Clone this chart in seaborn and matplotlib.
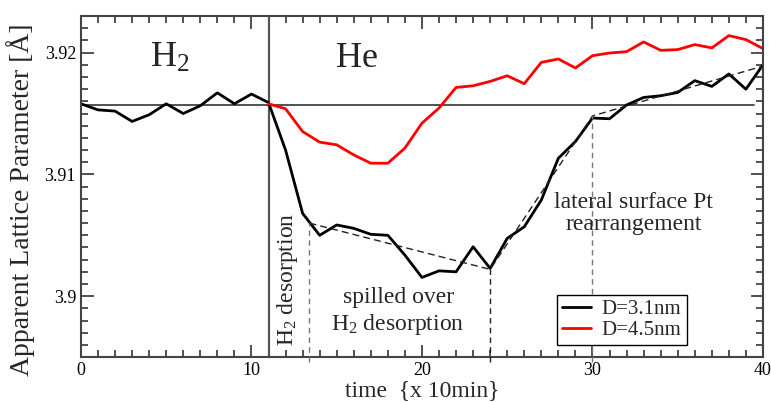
import numpy as np
import pandas as pd
import seaborn as sns
import matplotlib.pyplot as plt
from matplotlib.ticker import MultipleLocator, FixedLocator

# zaman (x 10 dk)
time_small = list(range(0, 41))
lat_small = [3.9158, 3.9153, 3.9152, 3.91435, 3.9149, 3.9158, 3.9150, 3.91564, 3.9167, 3.9158,
             3.9166, 3.9159, 3.9120, 3.9068, 3.9050, 3.90585, 3.90557, 3.90508, 3.9050, 3.90337,
             3.90154, 3.90208, 3.9020, 3.90406, 3.90228, 3.90475, 3.9057, 3.9079, 3.91133, 3.9127,
             3.91463, 3.91457, 3.9157, 3.91632, 3.91646, 3.91673, 3.9177, 3.91723, 3.91825, 3.9170,
             3.9190]

time_big = list(range(11, 41))
lat_big = [3.9158, 3.91539, 3.91352, 3.91265, 3.91243, 3.9116, 3.91092, 3.91092, 3.91216, 3.91421,
           3.91545, 3.91714, 3.91728, 3.91764, 3.9181, 3.91745, 3.9192, 3.91948, 3.91874, 3.91975,
           3.91997, 3.92008, 3.92088, 3.92019, 3.92025, 3.92066, 3.92039, 3.9214, 3.92107, 3.92033]

labels = ["D=3.1nm", "D=4.5nm"]

# kesikli fit cizgisi
fit_x = [13.4, 24, 30, 40]
fit_y = [3.9060, 3.9022, 3.9148, 3.9189]

ref_level = 3.9157
switch_time = 11

df = pd.concat([
    pd.DataFrame({"time": time_small, "lat": lat_small, "D": labels[0]}),
    pd.DataFrame({"time": time_big, "lat": lat_big, "D": labels[1]}),
])

sns.set_style("ticks")
plt.rcParams["font.family"] = ["Liberation Serif", "DejaVu Serif"]
plt.rcParams["mathtext.fontset"] = "custom"
plt.rcParams["mathtext.rm"] = "Liberation Serif"
plt.rcParams["mathtext.it"] = "Liberation Serif"

fig = plt.figure(figsize=(7.71, 4.03), dpi=100)
ax = fig.add_axes([0.105, 0.114, 0.8846, 0.846])

sns.lineplot(data=df, x="time", y="lat", hue="D", palette={labels[0]: "black", labels[1]: "red"},
             linewidth=2, ax=ax)

ax.axhline(ref_level, xmin=0, xmax=39.5 / 40, color="#333333", lw=1.2, zorder=1)
ax.axvline(switch_time, color="#555555", lw=1.6, zorder=1)

ax.plot(fit_x, fit_y, color="#222222", lw=1, ls=(0, (5, 3)), zorder=3)
for i, xv in enumerate(fit_x[:3]):
    c = "#222222" if i == 1 else "#777777"
    ax.plot([xv, xv], [3.8946, fit_y[i]], color=c, lw=1, ls=(0, (4, 3)), clip_on=False, zorder=3)

ax.set_xlim(0, 40)
ax.set_ylim(3.895, 3.923)
ax.xaxis.set_major_locator(FixedLocator([0, 10, 20, 30, 40]))
ax.xaxis.set_minor_locator(MultipleLocator(1))
ax.yaxis.set_major_locator(FixedLocator([3.9, 3.91, 3.92]))
ax.yaxis.set_minor_locator(MultipleLocator(0.001))
ax.set_yticklabels(["3.9", "3.91", "3.92"])
ax.tick_params(which="both", direction="in", top=True, right=True, colors="#333333",
               labelcolor="black", labelsize=13, width=1.2)
ax.tick_params(which="major", length=9)
ax.tick_params(which="minor", length=5)
for s in ax.spines.values():
    s.set_color("#444444")
    s.set_linewidth(1.5)

ax.set_xlabel("time  {x 10min}", fontsize=17, labelpad=1)
ax.set_ylabel("Apparent Lattice Parameter [Å]", fontsize=20)
ax.yaxis.set_label_coords(-0.068, 0.46)

ax.text(5.2, 3.9195, "H$_2$", fontsize=26, ha="center", va="center")
ax.text(16.2, 3.9195, "He", fontsize=26, ha="center", va="center")
ax.text(12.1, 3.9014, "H$_2$ desorption", fontsize=17, rotation=90, ha="center", va="center")
ax.text(18.6, 3.8987, "spilled over\nH$_2$ desorption", fontsize=17, ha="center", va="center",
        linespacing=1.25)
ax.text(32.4, 3.9068, "lateral surface Pt\nrearrangement", fontsize=17, ha="center", va="center",
        linespacing=1.05)

leg = ax.legend(loc="lower right", bbox_to_anchor=(0.888, 0.035), fontsize=15, frameon=True,
                fancybox=False, handlelength=1.4, borderpad=0.25, labelspacing=0.05,
                handletextpad=0.5, borderaxespad=0)
leg.get_frame().set_edgecolor("black")
leg.get_frame().set_linewidth(1)
leg.get_frame().set_alpha(1)
for h in leg.get_lines():
    h.set_linewidth(2)

fig.savefig("out.png", dpi=100)
